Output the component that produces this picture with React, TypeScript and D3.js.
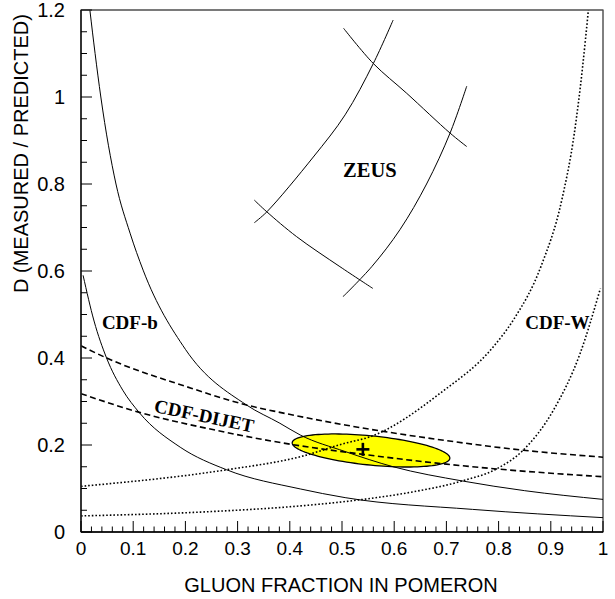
import React from "react";
import * as d3 from "d3";

// ---- data ----
const cdfbUpper: [number, number][] = [
  [0.017, 1.2], [0.027, 1.1], [0.038, 1.0], [0.067, 0.8], [0.094, 0.687], [0.119, 0.602],
  [0.2, 0.42], [0.317, 0.292], [0.381, 0.25], [0.42, 0.223], [0.506, 0.185],
  [0.598, 0.15], [0.732, 0.117], [0.85, 0.095], [1.0, 0.075],
];
const cdfbLower: [number, number][] = [
  [0.004, 0.59], [0.025, 0.485], [0.049, 0.4], [0.08, 0.326], [0.112, 0.274],
  [0.19, 0.195], [0.279, 0.143], [0.42, 0.099], [0.506, 0.079], [0.75, 0.052], [1.0, 0.033],
];
const dijetUpper: [number, number][] = [
  [0, 0.428], [0.049, 0.4], [0.2, 0.335], [0.317, 0.292], [0.381, 0.275],
  [0.506, 0.246], [0.7, 0.21], [0.847, 0.188], [1.0, 0.172],
];
const dijetLower: [number, number][] = [
  [0, 0.318], [0.112, 0.275], [0.25, 0.236], [0.4, 0.202], [0.55, 0.177],
  [0.7, 0.156], [0.796, 0.145], [1.0, 0.127],
];
const wUpper: [number, number][] = [
  [0, 0.105], [0.279, 0.143], [0.42, 0.173], [0.506, 0.204], [0.554, 0.219],
  [0.688, 0.319], [0.79, 0.426], [0.828, 0.487], [0.881, 0.61], [0.921, 0.763],
  [0.945, 0.916], [0.961, 1.07], [0.972, 1.2],
];
const wLower: [number, number][] = [
  [0, 0.037], [0.25, 0.047], [0.42, 0.06], [0.534, 0.074], [0.63, 0.091],
  [0.732, 0.118], [0.796, 0.145], [0.847, 0.188], [0.905, 0.28], [0.956, 0.41], [0.995, 0.56],
];
const zeus1: [number, number][] = [
  [0.332, 0.711], [0.356, 0.736], [0.445, 0.862], [0.506, 0.959], [0.56, 1.077], [0.598, 1.177],
];
const zeus2: [number, number][] = [
  [0.502, 0.541], [0.557, 0.61], [0.611, 0.695], [0.662, 0.8], [0.707, 0.917], [0.739, 1.025],
];
const zeus3: [number, number][] = [
  [0.332, 0.763], [0.356, 0.736], [0.413, 0.679], [0.496, 0.61], [0.559, 0.56],
];
const zeus4: [number, number][] = [
  [0.503, 1.158], [0.56, 1.077], [0.624, 1.0085], [0.707, 0.917], [0.739, 0.886],
];
// fit result: centre, half-widths and correlation of the 1-sigma contour
const ellipseCenter: [number, number] = [0.5556, 0.1874];
const ellipseHalf: [number, number] = [0.151, 0.038];
const ellipseRho = -0.46;
const bestFit: [number, number] = [0.54, 0.19];

const xTickLabels = ["0", "0.1", "0.2", "0.3", "0.4", "0.5", "0.6", "0.7", "0.8", "0.9", "1"];
const yTickLabels = ["0", "0.2", "0.4", "0.6", "0.8", "1", "1.2"];

export default function App() {
  const W = 615, H = 599;
  const x = d3.scaleLinear().domain([0, 1]).range([81, 603]);
  const y = d3.scaleLinear().domain([0, 1.2]).range([532, 10]);

  const line = d3
    .line<[number, number]>()
    .x((d) => x(d[0]))
    .y((d) => y(d[1]))
    .curve(d3.curveMonotoneX);
  const smooth = d3
    .line<[number, number]>()
    .x((d) => x(d[0]))
    .y((d) => y(d[1]))
    .curve(d3.curveCatmullRom.alpha(0.5));

  const steps = d3.range(0, 361, 3).map((deg) => (deg * Math.PI) / 180);
  const ellPts: [number, number][] = steps.map((t) => [
    ellipseCenter[0] + ellipseHalf[0] * Math.cos(t),
    ellipseCenter[1] +
      ellipseHalf[1] * (ellipseRho * Math.cos(t) + Math.sqrt(1 - ellipseRho * ellipseRho) * Math.sin(t)),
  ]);
  const ellPath =
    d3
      .line<[number, number]>()
      .x((d) => x(d[0]))
      .y((d) => y(d[1]))
      .curve(d3.curveLinearClosed)(ellPts) || "";

  const xMinor = d3.range(0, 51).map((i) => i / 50);
  const yMinor = d3.range(0, 25).map((i) => i * 0.05);

  const sansFont = "'Liberation Sans', Arial, Helvetica, sans-serif";
  const serifFont = "'Liberation Serif', 'Times New Roman', serif";

  const solid = { fill: "none", stroke: "#000", strokeWidth: 1 };
  const dashed = { fill: "none", stroke: "#000", strokeWidth: 1.6, strokeDasharray: "6 3.5" };
  const dotted = { fill: "none", stroke: "#000", strokeWidth: 1.6, strokeDasharray: "1.6 2" };

  const bx = x(bestFit[0]);
  const by = y(bestFit[1]);

  return (
    <svg width={W} height={H} style={{ position: "absolute", left: 0, top: 0, background: "#fff" }}>
      <defs>
        <clipPath id="plotclip">
          <rect x={x(0)} y={y(1.2)} width={x(1) - x(0)} height={y(0) - y(1.2)} />
        </clipPath>
      </defs>
      <rect x={0} y={0} width={W} height={H} fill="#fff" />

      <g clipPath="url(#plotclip)">
        <path d={ellPath} fill="#ffff00" stroke="#000" strokeWidth={1.3} />
        <path d={line(cdfbUpper) || ""} {...solid} />
        <path d={line(cdfbLower) || ""} {...solid} />
        <path d={line(dijetUpper) || ""} {...dashed} />
        <path d={line(dijetLower) || ""} {...dashed} />
        <path d={line(wUpper) || ""} {...dotted} />
        <path d={line(wLower) || ""} {...dotted} />
        <path d={smooth(zeus1) || ""} {...solid} />
        <path d={smooth(zeus2) || ""} {...solid} />
        <path d={smooth(zeus3) || ""} {...solid} />
        <path d={smooth(zeus4) || ""} {...solid} />
        <g stroke="#000" strokeWidth={2.6}>
          <line x1={bx - 6.5} x2={bx + 6.5} y1={by} y2={by} />
          <line x1={bx} x2={bx} y1={by - 6.5} y2={by + 6.5} />
        </g>
      </g>

      {/* frame */}
      <rect x={x(0)} y={y(1.2)} width={x(1) - x(0)} height={y(0) - y(1.2)} fill="none" stroke="#000" strokeWidth={1} />
      <line x1={x(0)} x2={x(1)} y1={y(1.2)} y2={y(1.2)} stroke="#777" strokeWidth={1.2} />
      <line x1={x(0)} x2={x(0)} y1={y(0)} y2={y(1.2)} stroke="#222" strokeWidth={1.6} />
      <line x1={x(0)} x2={x(1)} y1={y(0)} y2={y(0)} stroke="#000" strokeWidth={1.6} />

      {/* x ticks */}
      {xMinor.map((v, i) => (
        <line key={"xm" + i} x1={x(v)} x2={x(v)} y1={y(0)} y2={y(0) - (i % 5 === 0 ? 11 : 5.5)} stroke="#000" strokeWidth={1} />
      ))}
      {/* y ticks */}
      {yMinor.map((v, i) => (
        <line key={"ym" + i} x1={x(0)} x2={x(0) + (i % 4 === 0 ? 11 : 6)} y1={y(v)} y2={y(v)} stroke="#000" strokeWidth={1} />
      ))}

      {xTickLabels.map((t, i) => (
        <text key={"xl" + i} x={x(i / 10)} y={555} textAnchor="middle" fontFamily={sansFont} fontSize={19} fill="#000">
          {t}
        </text>
      ))}
      {yTickLabels.map((t, i) => (
        <text key={"yl" + i} x={65} y={y(i * 0.2)} dy="0.36em" textAnchor="end" fontFamily={sansFont} fontSize={20} fill="#000">
          {t}
        </text>
      ))}

      <text x={341} y={592} textAnchor="middle" fontFamily={sansFont} fontSize={20} fill="#000">
        GLUON FRACTION IN POMERON
      </text>
      <text transform={`translate(28,293) rotate(-90)`} textAnchor="start" fontFamily={sansFont} fontSize={20} fill="#000">
        D (MEASURED / PREDICTED)
      </text>

      {/* annotations */}
      <text x={x(0.502)} y={y(0.816)} fontFamily={serifFont} fontWeight="bold" fontSize={20.5} fill="#000">ZEUS</text>
      <text x={x(0.04)} y={y(0.467)} fontFamily={serifFont} fontWeight="bold" fontSize={19} fill="#000">CDF-b</text>
      <text x={x(0.851)} y={y(0.466)} fontFamily={serifFont} fontWeight="bold" fontSize={19} fill="#000">CDF-W</text>
      <text
        transform={`translate(${x(0.1385)},${y(0.2766)}) rotate(11.9)`}
        fontFamily={serifFont}
        fontWeight="bold"
        fontSize={19}
        fill="#000"
      >
        CDF-DIJET
      </text>
    </svg>
  );
}
